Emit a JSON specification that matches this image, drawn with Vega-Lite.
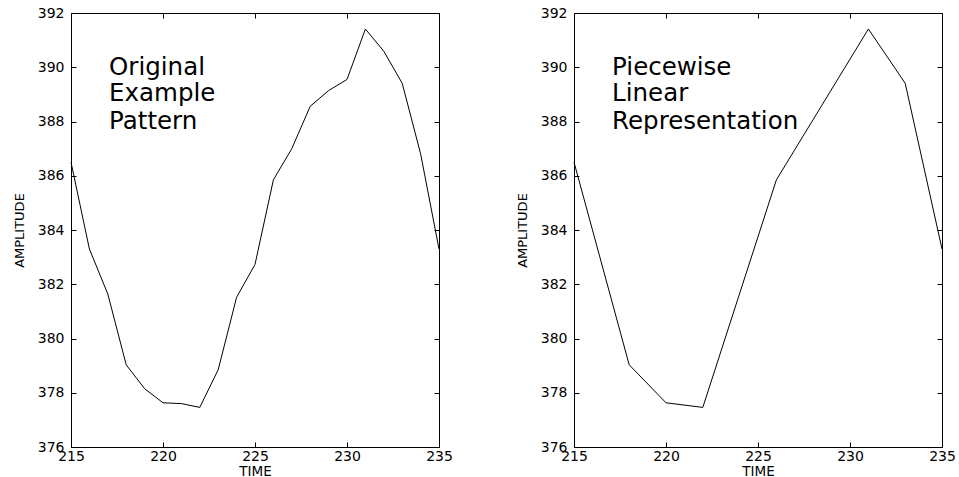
{
  "$schema": "https://vega.github.io/schema/vega-lite/v6.json",
  "padding": {"left": 12, "top": 5, "right": 0, "bottom": 0},
  "spacing": 135,
  "bounds": "flush",
  "background": "white",
  "config": {
    "view": {"stroke": "black", "strokeWidth": 1},
    "axis": {
      "domain": false, "grid": false, "tickColor": "black", "tickSize": -5, "tickWidth": 1,
      "labelFont": "DejaVu Sans", "labelFontSize": 14, "labelColor": "black",
      "titleFont": "DejaVu Sans", "titleFontWeight": "normal", "titleColor": "black",
      "labelOverlap": false, "labelBound": false, "labelFlush": false
    },
    "axisX": {"labelPadding": 7, "titlePadding": 1, "titleFontSize": 13.5},
    "axisY": {"labelPadding": 12, "titlePadding": 11, "titleFontSize": 13}
  },
  "datasets": {
    "orig": [
      {"time": 215, "amp": 386.5}, {"time": 216, "amp": 383.3}, {"time": 217, "amp": 381.64},
      {"time": 218, "amp": 379.03}, {"time": 219, "amp": 378.15}, {"time": 220, "amp": 377.63},
      {"time": 221, "amp": 377.6}, {"time": 222, "amp": 377.46}, {"time": 223, "amp": 378.85},
      {"time": 224, "amp": 381.52}, {"time": 225, "amp": 382.73}, {"time": 226, "amp": 385.85},
      {"time": 227, "amp": 387.0}, {"time": 228, "amp": 388.56}, {"time": 229, "amp": 389.14},
      {"time": 230, "amp": 389.55}, {"time": 231, "amp": 391.41}, {"time": 232, "amp": 390.59},
      {"time": 233, "amp": 389.41}, {"time": 234, "amp": 386.81}, {"time": 235, "amp": 383.3}
    ],
    "pla": [
      {"time": 215, "amp": 386.5}, {"time": 218, "amp": 379.03}, {"time": 220, "amp": 377.63},
      {"time": 222, "amp": 377.46}, {"time": 226, "amp": 385.85}, {"time": 231, "amp": 391.41},
      {"time": 233, "amp": 389.41}, {"time": 235, "amp": 383.3}
    ],
    "labA": [
      {"time": 217.07, "amp": 389.73, "label": "Original"},
      {"time": 217.07, "amp": 388.74, "label": "Example"},
      {"time": 217.07, "amp": 387.73, "label": "Pattern"}
    ],
    "labB": [
      {"time": 217.07, "amp": 389.73, "label": "Piecewise"},
      {"time": 217.07, "amp": 388.74, "label": "Linear"},
      {"time": 217.07, "amp": 387.73, "label": "Representation"}
    ]
  },
  "hconcat": [
    {
      "width": 368, "height": 434,
      "layer": [
        {
          "data": {"name": "orig"},
          "mark": {"type": "line", "color": "black", "strokeWidth": 1},
          "encoding": {
            "x": {"field": "time", "type": "quantitative", "scale": {"domain": [215, 235], "nice": false, "zero": false},
                  "axis": {"orient": "bottom", "title": "TIME", "values": [215, 220, 225, 230, 235], "format": "d"}},
            "y": {"field": "amp", "type": "quantitative", "scale": {"domain": [376, 392], "nice": false, "zero": false},
                  "axis": {"orient": "left", "title": "AMPLITUDE", "values": [376, 378, 380, 382, 384, 386, 388, 390, 392], "format": "d"}}
          }
        },
        {
          "data": {"name": "labA"},
          "mark": {"type": "text", "align": "left", "baseline": "alphabetic", "font": "DejaVu Sans", "fontSize": 24.5, "color": "black"},
          "encoding": {
            "x": {"field": "time", "type": "quantitative", "scale": {"domain": [215, 235], "nice": false, "zero": false},
                  "axis": {"orient": "top", "title": null, "labels": false, "values": [215, 220, 225, 230, 235]}},
            "y": {"field": "amp", "type": "quantitative", "scale": {"domain": [376, 392], "nice": false, "zero": false},
                  "axis": {"orient": "right", "title": null, "labels": false, "values": [376, 378, 380, 382, 384, 386, 388, 390, 392]}},
            "text": {"field": "label"}
          }
        }
      ]
    },
    {
      "width": 368, "height": 434,
      "layer": [
        {
          "data": {"name": "pla"},
          "mark": {"type": "line", "color": "black", "strokeWidth": 1},
          "encoding": {
            "x": {"field": "time", "type": "quantitative", "scale": {"domain": [215, 235], "nice": false, "zero": false},
                  "axis": {"orient": "bottom", "title": "TIME", "values": [215, 220, 225, 230, 235], "format": "d"}},
            "y": {"field": "amp", "type": "quantitative", "scale": {"domain": [376, 392], "nice": false, "zero": false},
                  "axis": {"orient": "left", "title": "AMPLITUDE", "values": [376, 378, 380, 382, 384, 386, 388, 390, 392], "format": "d"}}
          }
        },
        {
          "data": {"name": "labB"},
          "mark": {"type": "text", "align": "left", "baseline": "alphabetic", "font": "DejaVu Sans", "fontSize": 24.5, "color": "black"},
          "encoding": {
            "x": {"field": "time", "type": "quantitative", "scale": {"domain": [215, 235], "nice": false, "zero": false},
                  "axis": {"orient": "top", "title": null, "labels": false, "values": [215, 220, 225, 230, 235]}},
            "y": {"field": "amp", "type": "quantitative", "scale": {"domain": [376, 392], "nice": false, "zero": false},
                  "axis": {"orient": "right", "title": null, "labels": false, "values": [376, 378, 380, 382, 384, 386, 388, 390, 392]}},
            "text": {"field": "label"}
          }
        }
      ]
    }
  ]
}
